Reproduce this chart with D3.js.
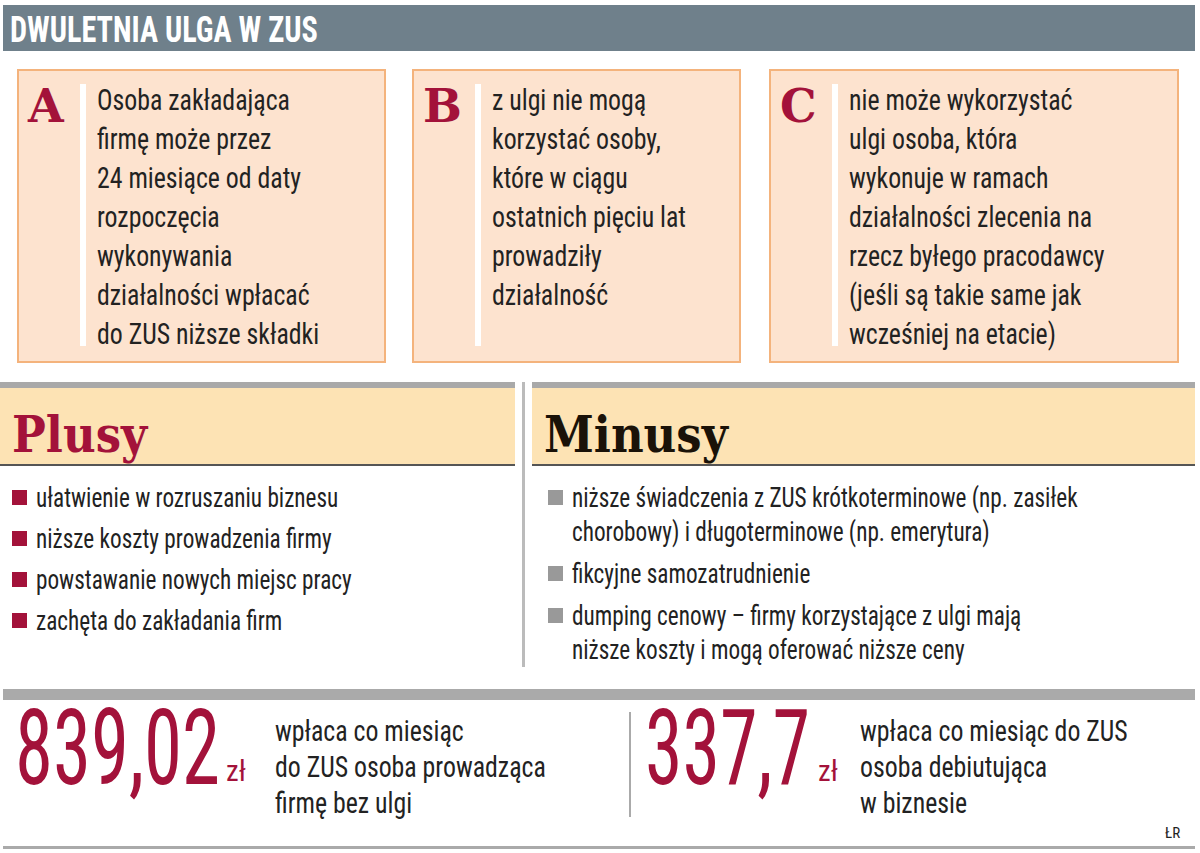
<!DOCTYPE html><html><head><meta charset="utf-8">
<script src="https://cdn.jsdelivr.net/npm/d3@7"></script>
<style>body{margin:0;background:#fff}</style></head><body><svg id="c" width="1200" height="853"></svg>
<script>
const title = "DWULETNIA ULGA W ZUS";
const boxLetters = ["A","B","C"];
const boxTexts = [
 ["Osoba zakładająca","firmę może przez","24 miesiące od daty","rozpoczęcia","wykonywania","działalności wpłacać","do ZUS niższe składki"],
 ["z ulgi nie mogą","korzystać osoby,","które w ciągu","ostatnich pięciu lat","prowadziły","działalność"],
 ["nie może wykorzystać","ulgi osoba, która","wykonuje w ramach","działalności zlecenia na","rzecz byłego pracodawcy","(jeśli są takie same jak","wcześniej na etacie)"]
];
const plusy = [["ułatwienie w rozruszaniu biznesu"],["niższe koszty prowadzenia firmy"],["powstawanie nowych miejsc pracy"],["zachęta do zakładania firm"]];
const minusy = [["niższe świadczenia z ZUS krótkoterminowe (np. zasiłek","chorobowy) i długoterminowe (np. emerytura)"],["fikcyjne samozatrudnienie"],["dumping cenowy – firmy korzystające z ulgi mają","niższe koszty i mogą oferować niższe ceny"]];
const amounts = ["839,02","337,7"];
const amountTexts = [["wpłaca co miesiąc","do ZUS osoba prowadząca","firmę bez ulgi"],["wpłaca co miesiąc do ZUS","osoba debiutująca","w biznesie"]];

const F = "'Liberation Sans Narrow','Roboto Condensed','Open Sans',sans-serif";
const S = "'DejaVu Serif','Liberation Serif',serif";
const RED = "#a3123a";
const svg = d3.select("#c");
// compress text horizontally by a factor (narrow-font emulation), and cap at max width
function fit(sel, factor, maxw){
  sel.each(function(){
    const w = this.getComputedTextLength();
    let t = w*factor;
    if (maxw && t>maxw) t = maxw;
    d3.select(this).attr("textLength",t).attr("lengthAdjust","spacingAndGlyphs");
  });
  return sel;
}
svg.append("rect").attr("x",3).attr("y",5).attr("width",1192).attr("height",46).attr("fill","#6f808b");
fit(svg.append("text").attr("x",10).attr("y",42).text(title).attr("fill","#fff").attr("font-family",F).attr("font-weight","bold").attr("font-size",36),0.84);

const bx = d3.scaleOrdinal().domain(boxLetters).range([[18,367],[413,327],[770,408]]);
boxLetters.forEach((L,i)=>{
  const [x,w] = bx(L);
  const g = svg.append("g").attr("transform",`translate(${x},70)`);
  g.append("rect").attr("width",w).attr("height",292).attr("fill","#fde3cf").attr("stroke","#f4b37c").attr("stroke-width",2);
  g.append("text").attr("x",10).attr("y",52).text(L).attr("fill",RED).attr("font-family",S).attr("font-weight","bold").attr("font-size",46);
  g.append("rect").attr("x",62).attr("y",14).attr("width",6).attr("height",262).attr("fill","#fff");
  fit(g.selectAll("text.l").data(boxTexts[i]).join("text").attr("class","l").attr("x",79).attr("y",(d,j)=>40+j*39).text(d=>d).attr("fill","#222").attr("font-family",F).attr("font-size",30),0.86,w-88);
});

[[0,515,"Plusy",RED,plusy,12,"#a3123a"],[532,663,"Minusy","#1a1208",minusy,548,"#999"]].forEach(([x,w,h,c,items,bxp,sq])=>{
  svg.append("rect").attr("x",x).attr("y",382).attr("width",w).attr("height",6).attr("fill","#a9a9a9");
  svg.append("rect").attr("x",x).attr("y",388).attr("width",w).attr("height",77).attr("fill","#fde3b4");
  svg.append("rect").attr("x",x).attr("y",464).attr("width",w).attr("height",2).attr("fill","#555");
  fit(svg.append("text").attr("x",x+12).attr("y",452).text(h).attr("fill",c).attr("font-family",S).attr("font-weight","bold").attr("font-size",50),0.9);
  let y=507;
  items.forEach(it=>{
    svg.append("rect").attr("x",bxp).attr("y",y-17).attr("width",15).attr("height",15).attr("fill",sq);
    it.forEach((t,k)=>{fit(svg.append("text").attr("x",bxp+24).attr("y",y+k*34).text(t).attr("fill","#222").attr("font-family",F).attr("font-size",27),0.86,x+w-bxp-30);});
    y += (it.length-1)*34 + (h==="Plusy"?41:42);
  });
});
svg.append("rect").attr("x",522).attr("y",382).attr("width",3).attr("height",285).attr("fill","#bbb");

svg.append("rect").attr("x",3).attr("y",689).attr("width",1192).attr("height",11).attr("fill","#aaa");
svg.append("rect").attr("x",629).attr("y",712).attr("width",2).attr("height",105).attr("fill","#aaa");
[[15,amounts[0],205,226,275],[645,amounts[1],165,818,860]].forEach(([x,a,aw,zx,tx],i)=>{
  svg.append("text").attr("x",x).attr("y",784).text(a).attr("fill",RED).attr("font-family",F).attr("font-size",106).attr("textLength",aw).attr("lengthAdjust","spacingAndGlyphs");
  svg.append("text").attr("x",zx).attr("y",781).text("zł").attr("fill",RED).attr("font-family",F).attr("font-size",30).attr("textLength",20).attr("lengthAdjust","spacingAndGlyphs");
  amountTexts[i].forEach((t,k)=>fit(svg.append("text").attr("x",tx).attr("y",741+k*36).text(t).attr("fill","#222").attr("font-family",F).attr("font-size",30),0.86,i?330:340));
});
svg.append("text").attr("x",1165).attr("y",838).text("ŁR").attr("fill","#222").attr("font-family",F).attr("font-size",15);
svg.append("rect").attr("x",3).attr("y",846).attr("width",1192).attr("height",3).attr("fill","#aaa");
</script></body></html>
